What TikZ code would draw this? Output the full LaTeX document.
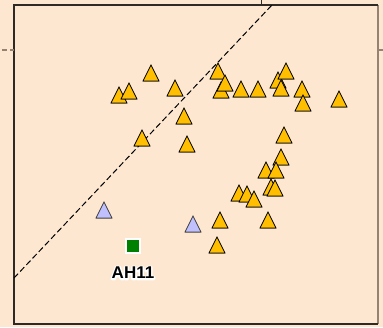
\documentclass[tikz,border=0pt]{standalone}
\usepackage{fontspec}
\setsansfont{Liberation Sans}
\usetikzlibrary{shapes.geometric,shadows}
\definecolor{peach}{RGB}{253,231,208}
\definecolor{gold}{RGB}{255,191,0}
\definecolor{lavender}{RGB}{192,192,255}
\definecolor{framedark}{RGB}{48,42,38}
\definecolor{framegray}{RGB}{150,130,115}
% white halo round a label
\newcommand{\halotext}[1]{\leavevmode\rlap{\special{pdf:literal direct 1 Tr 3.2 w 1 j 1 1 1 RG}#1\special{pdf:literal direct 0 Tr}}#1}

\begin{document}
\begin{tikzpicture}[x=1pt,y=-1pt]

	\tikzstyle{tri}=[shape=isosceles triangle, shape border rotate=90, isosceles triangle stretches,
		minimum width=16, minimum height=16, inner sep=0pt, draw=black, line width=0.8pt, fill=gold,
		drop shadow={shadow xshift=0pt, shadow yshift=-1pt, fill=black, opacity=.35}]
	\tikzstyle{trib}=[tri, fill=lavender, draw=black!75]
	\tikzstyle{site}=[rectangle, minimum size=14, inner sep=0pt, fill=green!50!black, draw=white, line width=2pt]

	\fill[peach] (0,0) rectangle (383,327);
	\useasboundingbox (0,0) rectangle (383,327);

	% frame and ticks
	\coordinate (nw) at (14,5);
	\coordinate (ne) at (378,5);
	\coordinate (se) at (378,324);
	\coordinate (sw) at (14,324);
	\draw[framegray, line width=1.2pt] (ne) -- (se);
	\draw[framedark, line width=1.2pt] (ne) -- (nw) -- (sw) -- (se);
	\draw[framegray, line width=1.2pt, dash pattern=on 5pt off 3pt] (2,50) -- (nw |- 0,50);
	\draw[framegray, line width=1.2pt] (ne |- 0,50) -- (383,50);
	\draw[framedark, line width=0.8pt] (261,0) -- (261,5);

	% dashed line
	\coordinate (da) at (14,278);
	\coordinate (db) at (272,5);
	\draw[line width=1pt, dash pattern=on 6pt off 3pt] (da) -- (db);

	% upper group
	\foreach \x/\y [count=\i] in {151/76, 119/98, 129/94, 175/91, 218/74, 221/93, 225/86,
		241/92, 258/92, 278/83, 286/74, 281/91, 302/92, 303/106, 339/102,
		184/119, 142/141, 187/147, 284/138, 281/160}
		\node[tri] (u\i) at (\x,\y) {};

	% lower group
	\foreach \x/\y [count=\i] in {266/173, 276/173, 271/190, 275/191, 239/196, 247/197, 254/202,
		220/223, 268/223, 217/248}
		\node[tri] (l\i) at (\x,\y) {};

	\node[trib] (b1) at (104,213) {};
	\node[trib] (b2) at (193,227) {};

	\node[site] (ah) at (133,246) {};
	\node[font=\sffamily\bfseries\fontsize{17}{17}\selectfont] (ahlab) at (133,273) {\halotext{AH11}};

\end{tikzpicture}
\end{document}
